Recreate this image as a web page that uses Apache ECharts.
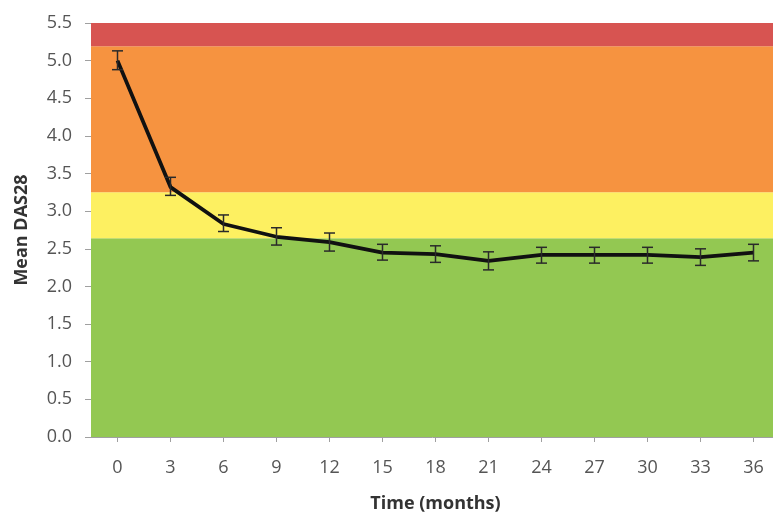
<!DOCTYPE html>
<html>
<head>
<meta charset="utf-8">
<script src="https://cdn.jsdelivr.net/npm/echarts@6/dist/echarts.min.js"></script>
<style>
html,body{margin:0;padding:0;background:#fff;}
#chart{width:773px;height:512px;}
</style>
</head>
<body>
<div id="chart"></div>
<script>
// Data
var months = ['0','3','6','9','12','15','18','21','24','27','30','33','36'];
var meanDAS28 = [5.00, 3.32, 2.83, 2.66, 2.59, 2.45, 2.43, 2.34, 2.42, 2.42, 2.42, 2.39, 2.45];
var errLow  = [4.88, 3.21, 2.73, 2.55, 2.47, 2.35, 2.32, 2.22, 2.31, 2.31, 2.31, 2.28, 2.34];
var errHigh = [5.13, 3.45, 2.95, 2.78, 2.71, 2.56, 2.54, 2.46, 2.52, 2.52, 2.52, 2.50, 2.56];
// Disease activity band boundaries (remission / low / moderate / high)
var bandEdges = [0, 2.64, 3.25, 5.19, 5.5];
var bandColors = ['#93c852', '#fdf061', '#f69340', '#d75451'];
var yTicks = ['0.0','0.5','1.0','1.5','2.0','2.5','3.0','3.5','4.0','4.5','5.0','5.5'];

var errData = months.map(function (m, i) { return [i, errLow[i], errHigh[i]]; });
var bands = [];
for (var b = 0; b < bandColors.length; b++) {
  bands.push([{ yAxis: bandEdges[b], itemStyle: { color: bandColors[b] } }, { yAxis: bandEdges[b + 1] }]);
}

var chart = echarts.init(document.getElementById('chart'), null, { renderer: 'canvas' });
var fontFam = '"Open Sans", "Liberation Sans", sans-serif';
chart.setOption({
  animation: false,
  backgroundColor: '#ffffff',
  grid: { left: 91, right: -7, top: 23, bottom: 75, containLabel: false, outerBoundsMode: 'none' },
  xAxis: {
    type: 'category',
    data: months,
    boundaryGap: true,
    name: 'Time (months)',
    nameLocation: 'middle',
    nameGap: 58,
    nameTextStyle: { fontFamily: fontFam, fontWeight: 'bold', fontSize: 18, color: '#333' },
    axisLine: { show: true, lineStyle: { color: '#a0a0a0', width: 1 } },
    axisTick: { show: true, alignWithLabel: true, length: 5, lineStyle: { color: '#a0a0a0' } },
    axisLabel: { fontFamily: fontFam, fontSize: 18, color: '#555', margin: 22 },
    splitLine: { show: false }
  },
  yAxis: {
    type: 'value',
    min: 0, max: 5.5, interval: 0.5,
    name: 'Mean DAS28',
    nameLocation: 'middle',
    nameGap: 60,
    nameRotate: 90,
    nameTextStyle: { fontFamily: fontFam, fontWeight: 'bold', fontSize: 18, color: '#333' },
    axisLine: { show: false },
    axisTick: { show: true, length: 6, lineStyle: { color: '#a0a0a0' } },
    axisLabel: {
      fontFamily: fontFam, fontSize: 18, color: '#555', margin: 19,
      formatter: function (v) { var i = Math.round(v / 0.5); return yTicks[i] !== undefined ? yTicks[i] : v.toFixed(1); }
    },
    splitLine: { show: false }
  },
  series: [
    {
      type: 'line',
      data: meanDAS28,
      symbol: 'none',
      lineStyle: { color: '#111', width: 3.8 },
      z: 3,
      markArea: { silent: true, data: bands, itemStyle: { opacity: 1 } }
    },
    {
      type: 'custom',
      z: 4,
      data: errData,
      renderItem: function (params, api) {
        var x = api.value(0);
        var lo = api.coord([x, api.value(1)]);
        var hi = api.coord([x, api.value(2)]);
        var cap = 5.5;
        var style = { stroke: '#2a2a2a', lineWidth: 1.5, fill: null };
        return {
          type: 'group',
          children: [
            { type: 'line', shape: { x1: lo[0], y1: lo[1], x2: hi[0], y2: hi[1] }, style: style },
            { type: 'line', shape: { x1: lo[0] - cap, y1: lo[1], x2: lo[0] + cap, y2: lo[1] }, style: style },
            { type: 'line', shape: { x1: hi[0] - cap, y1: hi[1], x2: hi[0] + cap, y2: hi[1] }, style: style }
          ]
        };
      }
    }
  ]
});
</script>
</body>
</html>
